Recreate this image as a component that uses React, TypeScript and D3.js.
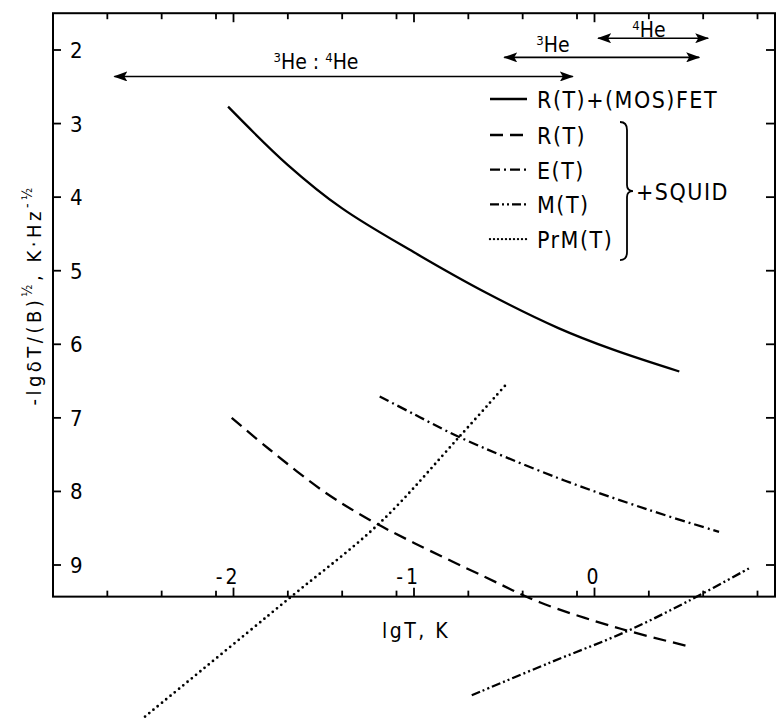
import React, { useRef, useEffect } from "react";
import * as d3 from "d3";

// lg T (K) values and -lg(dT/B^1/2) values
const rfetT = [-2.03, -1.7, -1.4, -1.0, -0.6, -0.2, 0.1, 0.47];
const rfetV = [2.77, 3.56, 4.15, 4.75, 5.3, 5.78, 6.07, 6.37];

const rT = [-2.01, -1.8, -1.5, -1.25, -1.0, -0.6, -0.3, 0.15, 0.53];
const rV = [7.0, 7.43, 8.0, 8.38, 8.7, 9.17, 9.51, 9.87, 10.11];

const eT = [-1.19, -1.0, -0.75, -0.2, 0.3, 0.69];
const eV = [6.71, 6.95, 7.26, 7.82, 8.25, 8.55];

const mT = [-0.68, -0.25, 0.18, 0.52, 0.86];
const mV = [10.77, 10.33, 9.9, 9.49, 9.04];

const prmT = [-2.49, -1.7, -1.19, -0.75, -0.48];
const prmV = [11.06, 9.47, 8.43, 7.26, 6.52];

const seriesNames = ["R(T)+(MOS)FET", "R(T)", "E(T)", "M(T)", "PrM(T)"];
const dashes = [null, "13,7", "10,4,2,4", "9,3,2,3,2,3", "0,5.5"];

const xMajor = [-2, -1, 0];
const xMinor = [-3, -2, -1, 0].flatMap((d) => [2, 4, 8].map((m) => d + Math.log10(m))).filter((v) => v < 1);
const yTicks = [2, 3, 4, 5, 6, 7, 8, 9];

// temperature ranges (lgT) of the cryostats, and the level they are drawn at
const rangeLabels = ["3He:4He", "3He", "4He"];
const rangeFrom = [-2.66, -0.5, 0.02];
const rangeTo = [-0.12, 0.58, 0.63];
const rangeLevel = [2.36, 2.1, 1.84];

const FONT = "'Liberation Sans Narrow', 'DejaVu Sans Condensed', 'Liberation Sans', sans-serif";

const App = () => {
  const svgRef = useRef<SVGSVGElement>(null);

  useEffect(() => {
    const svg = d3.select(svgRef.current);
    svg.selectAll("*").remove();
    const width = 777;
    const height = 721;
    svg.attr("width", width).attr("height", height);

    const x = d3.scaleLinear().domain([-3, 1]).range([53, 775]);
    const y = d3.scaleLinear().domain([2, 9]).range([50, 565]);
    const yTop = 1.5;
    const yBot = 9.43;

    const defs = svg.append("defs");
    defs
      .append("marker")
      .attr("id", "ah")
      .attr("viewBox", "0 0 14 10")
      .attr("refX", 13)
      .attr("refY", 5)
      .attr("markerWidth", 14)
      .attr("markerHeight", 10)
      .attr("markerUnits", "userSpaceOnUse")
      .attr("orient", "auto-start-reverse")
      .append("path")
      .attr("d", "M0,0 L14,5 L0,10 L3,5 z")
      .attr("fill", "#000");

    const g = svg.append("g").style("font-family", FONT);

    // frame
    g.append("rect")
      .attr("x", x(-3))
      .attr("y", y(yTop))
      .attr("width", x(1) - x(-3))
      .attr("height", y(yBot) - y(yTop))
      .attr("fill", "none")
      .attr("stroke", "#000")
      .attr("stroke-width", 2);

    // x ticks (bottom pointing up, top pointing down)
    const xt = [...xMajor.map((v) => ({ v, len: 9 })), ...xMinor.map((v) => ({ v, len: 6 }))];
    g.selectAll(".xtb")
      .data(xt)
      .enter()
      .append("line")
      .attr("x1", (d) => x(d.v))
      .attr("x2", (d) => x(d.v))
      .attr("y1", y(yBot))
      .attr("y2", (d) => y(yBot) - d.len)
      .attr("stroke", "#000")
      .attr("stroke-width", 1.8);
    g.selectAll(".xtt")
      .data(xt)
      .enter()
      .append("line")
      .attr("x1", (d) => x(d.v))
      .attr("x2", (d) => x(d.v))
      .attr("y1", y(yTop))
      .attr("y2", (d) => y(yTop) + d.len)
      .attr("stroke", "#000")
      .attr("stroke-width", 1.8);

    g.selectAll(".xl")
      .data(xMajor)
      .enter()
      .append("text")
      .attr("x", (d) => x(d) + 7)
      .attr("y", y(yBot) - 13)
      .attr("text-anchor", "end")
      .attr("font-size", 21)
      .attr("letter-spacing", 3)
      .text((d) => (d < 0 ? "-" + Math.abs(d) : String(d)));

    // y ticks on both sides, pointing inward
    g.selectAll(".ytl")
      .data(yTicks)
      .enter()
      .append("line")
      .attr("x1", x(-3))
      .attr("x2", x(-3) + 8)
      .attr("y1", (d) => y(d))
      .attr("y2", (d) => y(d))
      .attr("stroke", "#000")
      .attr("stroke-width", 1.8);
    g.selectAll(".ytr")
      .data(yTicks)
      .enter()
      .append("line")
      .attr("x1", x(1))
      .attr("x2", x(1) - 9)
      .attr("y1", (d) => y(d))
      .attr("y2", (d) => y(d))
      .attr("stroke", "#000")
      .attr("stroke-width", 1.8);
    g.selectAll(".yl")
      .data(yTicks)
      .enter()
      .append("text")
      .attr("x", x(-3) + 17)
      .attr("y", (d) => y(d) + 8)
      .attr("font-size", 22)
      .text((d) => d);

    // axis titles
    g.append("text")
      .attr("x", 382)
      .attr("y", 638)
      .attr("font-size", 21)
      .attr("letter-spacing", 2.5)
      .text("lgT, K");

    const yl = g
      .append("text")
      .attr("transform", `translate(41,${(y(yTop) + y(yBot)) / 2 - 10}) rotate(-90)`)
      .attr("text-anchor", "middle")
      .attr("font-size", 20)
      .attr("letter-spacing", 3.5);
    yl.append("tspan").text("-lgδT/(B)");
    yl.append("tspan").attr("dy", -9).attr("font-size", 14).text("½");
    yl.append("tspan").attr("dy", 9).text(", K·Hz");
    yl.append("tspan").attr("dy", -9).attr("font-size", 14).text("-½");

    // curves
    const line = d3
      .line<[number, number]>()
      .x((d) => x(d[0]))
      .y((d) => y(d[1]))
      .curve(d3.curveCatmullRom.alpha(0.5));
    const series = [
      [rfetT, rfetV],
      [rT, rV],
      [eT, eV],
      [mT, mV],
      [prmT, prmV],
    ].map(([ts, vs]) => ts.map((t, i) => [t, vs[i]] as [number, number]));

    series.forEach((pts, i) => {
      g.append("path")
        .datum(pts)
        .attr("fill", "none")
        .attr("stroke", "#000")
        .attr("stroke-width", i === 4 ? 2.8 : 2.3)
        .attr("stroke-linecap", i === 4 ? "round" : "butt")
        .attr("stroke-dasharray", dashes[i])
        .attr("d", line);
    });

    // temperature range arrows
    rangeLabels.forEach((lab, i) => {
      g.append("line")
        .attr("x1", x(rangeFrom[i]))
        .attr("x2", x(rangeTo[i]))
        .attr("y1", y(rangeLevel[i]))
        .attr("y2", y(rangeLevel[i]))
        .attr("stroke", "#000")
        .attr("stroke-width", 1.6)
        .attr("marker-start", "url(#ah)")
        .attr("marker-end", "url(#ah)");
    });
    const lab1 = g.append("text").attr("x", 316).attr("y", y(rangeLevel[0]) - 7).attr("text-anchor", "middle").attr("font-size", 21);
    lab1.append("tspan").attr("font-size", 13).attr("dy", -7).text("3");
    lab1.append("tspan").attr("dy", 7).text("He : ");
    lab1.append("tspan").attr("font-size", 13).attr("dy", -7).text("4");
    lab1.append("tspan").attr("dy", 7).text("He");
    [
      [1, 553, 5],
      [2, 649, 1],
    ].forEach(([i, cx, off]) => {
      const t = g.append("text").attr("x", cx).attr("y", y(rangeLevel[i]) - off).attr("text-anchor", "middle").attr("font-size", 21);
      t.append("tspan").attr("font-size", 13).attr("dy", -7).text(i === 1 ? "3" : "4");
      t.append("tspan").attr("dy", 7).text("He");
    });

    // legend
    const rowY = seriesNames.map((_, i) => (i === 0 ? 108 : 144 + (i - 1) * 34.7));
    seriesNames.forEach((name, i) => {
      g.append("line")
        .attr("x1", 490)
        .attr("x2", 527)
        .attr("y1", rowY[i] - 9)
        .attr("y2", rowY[i] - 9)
        .attr("stroke", "#000")
        .attr("stroke-width", i === 4 ? 2.4 : 2.3)
        .attr("stroke-linecap", i === 4 ? "round" : "butt")
        .attr("stroke-dasharray", i === 4 ? "0,4" : dashes[i]);
      g.append("text")
        .attr("x", 537)
        .attr("y", rowY[i])
        .attr("font-size", 23)
        .attr("letter-spacing", 1.5)
        .text(name);
    });

    // brace for the SQUID group
    const bt = rowY[1] - 22;
    const bb = rowY[4] + 12;
    const bm = (bt + bb) / 2;
    g.append("path")
      .attr(
        "d",
        `M620,${bt} Q627,${bt} 627,${bt + 8} L627,${bm - 6} Q627,${bm} 633,${bm} Q627,${bm} 627,${bm + 6} L627,${bb - 8} Q627,${bb} 620,${bb}`
      )
      .attr("fill", "none")
      .attr("stroke", "#000")
      .attr("stroke-width", 1.8);
    g.append("text")
      .attr("x", 636)
      .attr("y", bm + 9)
      .attr("font-size", 23)
      .attr("letter-spacing", 1.5)
      .text("+SQUID");
  }, []);

  return <svg ref={svgRef} style={{ position: "absolute", left: 0, top: 0, background: "#fff" }}></svg>;
};

export default App;
